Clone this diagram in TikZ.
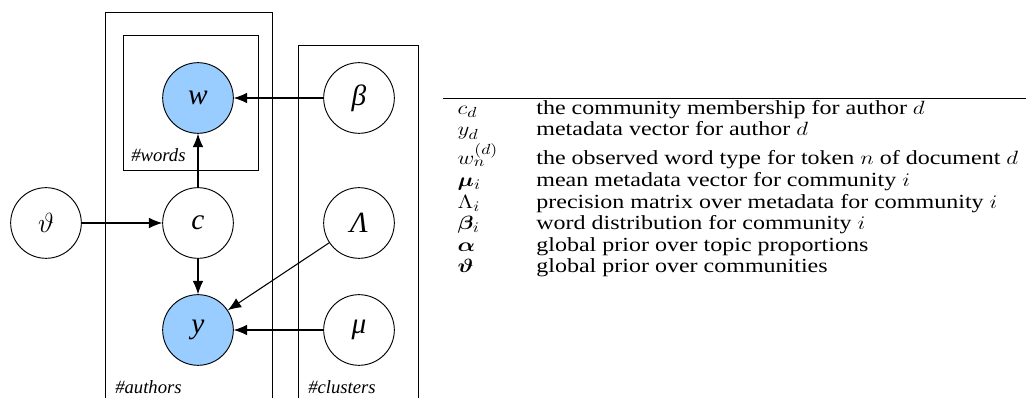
\documentclass[tikz,border=0pt]{standalone}
\usepackage{fontspec}
\setmainfont{Liberation Serif}
\usepackage{bm}
\usetikzlibrary{arrows.meta}
\definecolor{observed}{RGB}{153,204,255}

\begin{document}
\begin{tikzpicture}[x=0.75pt, y=-0.75pt,
    var/.style={circle, draw, line width=0.7pt, minimum size=53pt, inner sep=0pt, font=\fontsize{22}{24}\selectfont\itshape},
    obs/.style={var, fill=observed},
    plate/.style={draw, line width=0.7pt},
    platelabel/.style={anchor=base west, inner sep=0pt, font=\fontsize{14}{16}\selectfont\itshape},
    edge/.style={line width=0.8pt, -{Latex[length=10pt, width=8pt]}},
    legend/.style={anchor=north west, inner sep=0pt, xscale=1.2, font=\fontsize{15}{16.2}\selectfont}
]
    \useasboundingbox (0,0) rectangle (1026,398);

    % plates
    \draw[plate] (105,410) |- (272,12) -- (272,410);
    \draw[plate] (123,35) rectangle (258,170);
    \draw[plate] (298,410) |- (418,45) -- (418,410);
    \node[platelabel] (words) at (131,162) {\#words};
    \node[platelabel] (authors) at (115,394) {\#authors};
    \node[platelabel] (clusters) at (308,394) {\#clusters};

    % variables
    \node[obs] (w) at (198,98) {w};
    \node[var] (theta) at (46,223) {$\vartheta$};
    \node[var] (c) at (198,223) {c};
    \node[obs] (y) at (198,330) {y};
    \node[var] (beta) at (359,98) {β};
    \node[var] (Lambda) at (359,223) {Λ};
    \node[var] (mu) at (359,330) {μ};

    \draw[edge] (theta) -- (c);
    \draw[edge] (c) -- (w);
    \draw[edge] (c) -- (y);
    \draw[edge] (beta) -- (w);
    \draw[edge] (Lambda) -- (y);
    \draw[edge] (mu) -- (y);

    % notation
    \node[legend] (notation) at (443,98) {%
        \setlength{\arrayrulewidth}{0.6pt}%
        \begin{tabular}{@{\hspace{9pt}}l@{\hspace{24pt}}l@{\hspace{9pt}}}
            \hline
            $c_d$ & the community membership for author $d$\\
            $y_d$ & metadata vector for author $d$\\[1pt]
            $w_n^{(d)}$ & the observed word type for token $n$ of document $d$\\
            $\bm{\mu}_i$ & mean metadata vector for community $i$\\
            $\Lambda_i$ & precision matrix over metadata for community $i$\\
            $\bm{\beta}_i$ & word distribution for community $i$\\
            $\bm{\alpha}$ & global prior over topic proportions\\
            $\bm{\vartheta}$ & global prior over communities
        \end{tabular}};
\end{tikzpicture}
\end{document}
